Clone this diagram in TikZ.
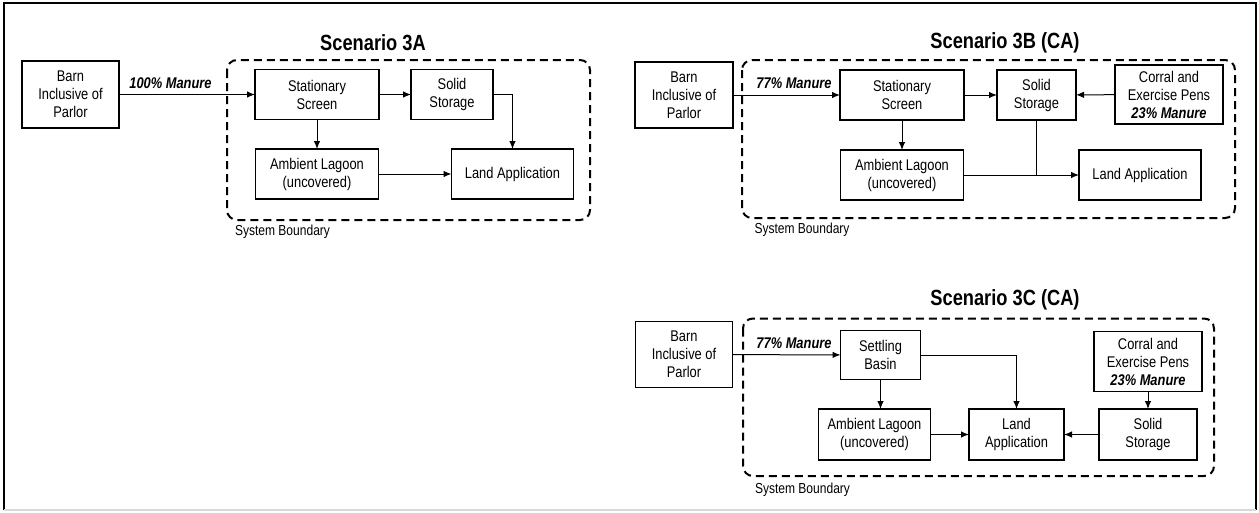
\documentclass[tikz,border=0pt]{standalone}
\usepackage{fontspec}
\setmainfont{Liberation Sans}[FakeStretch=0.83]
\usetikzlibrary{arrows.meta}

\begin{document}
\begin{tikzpicture}[x=1pt,y=-1pt,
  every node/.style={inner sep=0pt, outer sep=0pt, align=center, font=\fontsize{15.5}{18}\selectfont},
  box/.style={draw, line width=1.1pt},
  flow/.style={-{Latex[length=8pt,width=6.5pt]}, line width=1pt},
  link/.style={line width=1pt},
  boundary/.style={line width=2pt, dash pattern=on 8pt off 5pt, rounded corners=10pt},
  title/.style={font=\fontsize{22}{26}\selectfont\bfseries},
  share/.style={font=\fontsize{15.5}{18}\selectfont\bfseries\itshape},
  sysb/.style={anchor=west, font=\fontsize{14.5}{17}\selectfont}]
\useasboundingbox (0,0) rectangle (1259,512);
\draw[line width=2pt] (4,510) -- (4,3) -- (1256,3) -- (1256,510);
\draw[black!15, line width=1.5pt] (4,510) -- (1256,510);

\node[title] (titleA) at (373,43) {Scenario 3A};
\draw[boundary] (227,60) rectangle (590,220);
\node[sysb] (sysA) at (235,232) {System Boundary};
\node[box, minimum width=97pt, minimum height=67pt] (barnA) at (70.5,94.5) {Barn\\Inclusive of\\Parlor};
\node[box, minimum width=124pt, minimum height=50pt] (screenA) at (317,94.5) {Stationary\\Screen};
\node[box, minimum width=82pt, minimum height=50pt] (solidA) at (452,94.5) {Solid\\Storage};
\node[box, minimum width=123pt, minimum height=50pt] (lagoonA) at (317,174) {Ambient Lagoon\\(uncovered)};
\node[box, minimum width=122pt, minimum height=50pt] (landA) at (512.5,174) {Land Application};
\node[share] (shareA) at (170.5,83) {100\% Manure};
\draw[flow] (barnA) -- (screenA);
\draw[flow] (screenA) -- (solidA);
\draw[flow] (screenA) -- (lagoonA);
\draw[flow] (lagoonA) -- (landA);
\draw[flow] (solidA.east) -| (landA.north);

\node[title] (titleB) at (1005,43) {Scenario 3B (CA)};
\draw[boundary] (742,60) rectangle (1235,218);
\node[sysb] (sysB) at (754.5,230) {System Boundary};
\node[box, minimum width=98pt, minimum height=66pt] (barnB) at (684,95) {Barn\\Inclusive of\\Parlor};
\node[box, minimum width=124pt, minimum height=50pt] (screenB) at (902,95) {Stationary\\Screen};
\node[box, minimum width=79pt, minimum height=50pt] (solidB) at (1036.5,95) {Solid\\Storage};
\node[box, minimum width=108pt, minimum height=59pt] (corralB) at (1169,94.5) {Corral and\\Exercise Pens\\\textbf{\textit{23\% Manure}}};
\node[box, minimum width=123pt, minimum height=50pt] (lagoonB) at (902,175) {Ambient Lagoon\\(uncovered)};
\node[box, minimum width=122pt, minimum height=50pt] (landB) at (1140,175) {Land Application};
\node[share] (shareB) at (794,83) {77\% Manure};
\coordinate (joinB) at (solidB.south |- landB.west);
\draw[flow] (barnB) -- (screenB);
\draw[flow] (screenB) -- (solidB);
\draw[flow] (corralB) -- (solidB);
\draw[flow] (screenB) -- (lagoonB);
\draw[flow] (lagoonB) -- (landB);
\draw[link] (solidB.south) -- (joinB);

\node[title] (titleC) at (1005,300) {Scenario 3C (CA)};
\draw[boundary] (743,318.5) rectangle (1214,476);
\node[sysb] (sysC) at (755,490) {System Boundary};
\node[box, minimum width=97pt, minimum height=66pt] (barnC) at (684,354.5) {Barn\\Inclusive of\\Parlor};
\node[box, minimum width=80pt, minimum height=49pt] (settleC) at (880.5,355) {Settling\\Basin};
\node[box, minimum width=108pt, minimum height=60pt] (corralC) at (1148,361.5) {Corral and\\Exercise Pens\\\textbf{\textit{23\% Manure}}};
\node[box, minimum width=112pt, minimum height=51pt] (lagoonC) at (874.5,434.5) {Ambient Lagoon\\(uncovered)};
\node[box, minimum width=95pt, minimum height=51pt] (landC) at (1016.5,434.5) {Land\\Application};
\node[box, minimum width=98pt, minimum height=51pt] (solidC) at (1148,434.5) {Solid\\Storage};
\node[share] (shareC) at (794,343) {77\% Manure};
\draw[flow] (barnC) -- (settleC);
\draw[flow] (settleC.south) -- (settleC.south |- lagoonC.north);
\draw[flow] (settleC.east) -| (landC.north);
\draw[flow] (corralC) -- (solidC);
\draw[flow] (lagoonC) -- (landC);
\draw[flow] (solidC) -- (landC);
\end{tikzpicture}
\end{document}
